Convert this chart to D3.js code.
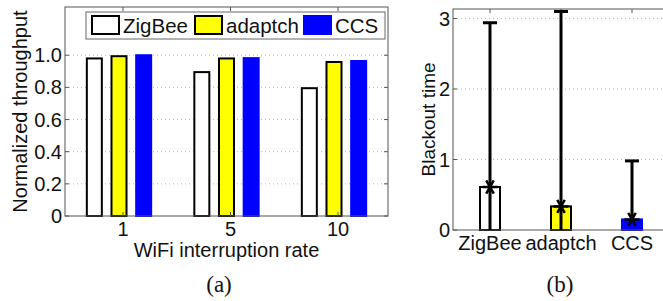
<!DOCTYPE html>
<html>
<head>
<meta charset="utf-8">
<script src="https://d3js.org/d3.v7.min.js"></script>
<style>
  body { margin: 0; background: white; }
  svg text { font-family: "Liberation Sans", Arial, sans-serif; fill: #111; }
  .grid line { stroke: #bbb; stroke-dasharray: 1,3; }
  .caption { font-family: "Liberation Serif", "Times New Roman", serif !important; }
</style>
</head>
<body>
<svg width="663" height="301"></svg>
<script>
// chart (a) data
var rates = ["1", "5", "10"];
var series = ["ZigBee", "adaptch", "CCS"];
var zigbee = [0.98, 0.895, 0.795];
var adaptch = [0.994, 0.98, 0.958];
var ccs = [1.0, 0.982, 0.964];
var yTicksA = [0, 0.2, 0.4, 0.6, 0.8, 1.0];

// chart (b) data
var schemes = ["ZigBee", "adaptch", "CCS"];
var blackMean = [0.61, 0.335, 0.15];
var blackMin = [0, 0, 0.15];
var blackMax = [2.94, 3.10, 0.98];
var yTicksB = [0, 1, 2, 3];

var fills = {ZigBee: "white", adaptch: "#ffff00", CCS: "#0000ff"};
var strokes = {ZigBee: "black", adaptch: "black", CCS: "#0000ff"};

var svg = d3.select("svg");

// ---------- (a) ----------
var a = {left: 65, right: 388, top: 7, bottom: 216};

var x = d3.scalePoint().domain(rates).range([123, 338]),
    inner = d3.scaleBand().domain(series).range([-37, 37]),
    y = d3.scaleLinear().domain([0, 1.3]).range([a.bottom, a.top]);

var ga = svg.append("g");

ga.append("g").attr("class", "grid")
  .selectAll("line")
  .data(yTicksA.filter(function(d) { return d > 0; }))
  .enter().append("line")
    .attr("x1", a.left).attr("x2", a.right)
    .attr("y1", function(d) { return y(d); })
    .attr("y2", function(d) { return y(d); });

var rows = [];
rates.forEach(function(r, i) {
  rows.push({rate: r, s: "ZigBee", v: zigbee[i]});
  rows.push({rate: r, s: "adaptch", v: adaptch[i]});
  rows.push({rate: r, s: "CCS", v: ccs[i]});
});

var barW = 15;
ga.selectAll(".bar")
  .data(rows)
  .enter().append("rect")
    .attr("class", "bar")
    .attr("x", function(d) { return x(d.rate) - 4 + inner(d.s) + inner.bandwidth() / 2 - barW / 2; })
    .attr("y", function(d) { return y(d.v); })
    .attr("width", barW)
    .attr("height", function(d) { return y(0) - y(d.v); })
    .style("fill", function(d) { return fills[d.s]; })
    .style("stroke", function(d) { return strokes[d.s]; })
    .style("stroke-width", 2);

// box + ticks
ga.append("rect")
  .attr("x", a.left).attr("y", a.top)
  .attr("width", a.right - a.left).attr("height", a.bottom - a.top)
  .style("fill", "none").style("stroke", "#555").style("stroke-width", 1);

rates.forEach(function(r) {
  ga.append("line").attr("x1", x(r)).attr("x2", x(r)).attr("y1", a.bottom).attr("y2", a.bottom - 4).style("stroke", "#555");
  ga.append("line").attr("x1", x(r)).attr("x2", x(r)).attr("y1", a.top).attr("y2", a.top + 4).style("stroke", "#555");
});
yTicksA.forEach(function(t) {
  ga.append("line").attr("x1", a.left).attr("x2", a.left + 4).attr("y1", y(t)).attr("y2", y(t)).style("stroke", "#555");
  ga.append("line").attr("x1", a.right).attr("x2", a.right - 4).attr("y1", y(t)).attr("y2", y(t)).style("stroke", "#555");
});

ga.selectAll(".ytick")
  .data(yTicksA)
  .enter().append("text")
    .attr("x", 62)
    .attr("y", function(d) { return y(d); })
    .attr("dy", "0.35em")
    .attr("text-anchor", "end")
    .style("font-size", "20px")
    .text(function(d) { return d === 0 ? "0" : d.toFixed(1); });

ga.selectAll(".xtick")
  .data(rates)
  .enter().append("text")
    .attr("x", function(d) { return x(d); })
    .attr("y", 236)
    .attr("text-anchor", "middle")
    .style("font-size", "20px")
    .text(function(d) { return d; });

ga.append("text")
  .attr("x", (a.left + a.right) / 2).attr("y", 257)
  .attr("text-anchor", "middle")
  .style("font-size", "20px")
  .text("WiFi interruption rate");

ga.append("text")
  .attr("transform", "translate(27," + (a.top + a.bottom) / 2 + ") rotate(-90)")
  .attr("text-anchor", "middle")
  .style("font-size", "20px")
  .text("Normalized throughput");

// legend
var legend = ga.append("g");
legend.append("rect")
  .attr("x", 86).attr("y", 12).attr("width", 299).attr("height", 27)
  .style("fill", "white").style("stroke", "#666");
var slots = [91, 194, 303];
series.forEach(function(s, i) {
  legend.append("rect")
    .attr("x", slots[i] + 1).attr("y", 16).attr("width", 27).attr("height", 18)
    .style("fill", fills[s]).style("stroke", strokes[s]).style("stroke-width", 2);
  legend.append("text")
    .attr("x", slots[i] + 32).attr("y", 33)
    .style("font-size", "20.5px")
    .text(s);
});

// ---------- (b) ----------
var b = {left: 453, right: 672, top: 9, bottom: 230};

var xb = d3.scalePoint().domain(schemes).range([490, 632]),
    yb = d3.scaleLinear().domain([0, 3.135]).range([b.bottom, b.top]);

var gb = svg.append("g");

gb.append("g").attr("class", "grid")
  .selectAll("line")
  .data(yTicksB.filter(function(d) { return d > 0; }))
  .enter().append("line")
    .attr("x1", b.left).attr("x2", b.right)
    .attr("y1", function(d) { return yb(d); })
    .attr("y2", function(d) { return yb(d); });

var bw = 20;
gb.selectAll(".bbar")
  .data(schemes)
  .enter().append("rect")
    .attr("class", "bbar")
    .attr("x", function(d) { return xb(d) - bw / 2; })
    .attr("y", function(d, i) { return yb(blackMean[i]); })
    .attr("width", bw)
    .attr("height", function(d, i) { return yb(0) - yb(blackMean[i]); })
    .style("fill", function(d) { return fills[d]; })
    .style("stroke", function(d) { return strokes[d]; })
    .style("stroke-width", 2);

gb.append("rect")
  .attr("x", b.left).attr("y", b.top)
  .attr("width", b.right - b.left).attr("height", b.bottom - b.top)
  .style("fill", "none").style("stroke", "#555").style("stroke-width", 1);

schemes.forEach(function(s) {
  gb.append("line").attr("x1", xb(s)).attr("x2", xb(s)).attr("y1", b.top).attr("y2", b.top + 4).style("stroke", "#555");
});
yTicksB.forEach(function(t) {
  gb.append("line").attr("x1", b.left).attr("x2", b.left + 4).attr("y1", yb(t)).attr("y2", yb(t)).style("stroke", "#555");
});

// error bars
var err = gb.selectAll(".err")
  .data(schemes)
  .enter().append("g")
    .attr("class", "err")
    .style("stroke", "black")
    .style("stroke-width", 3);

err.append("line")
  .attr("x1", function(d) { return xb(d); })
  .attr("x2", function(d) { return xb(d); })
  .attr("y1", function(d, i) { return yb(blackMin[i]); })
  .attr("y2", function(d, i) { return yb(blackMax[i]); });

err.append("line")
  .attr("x1", function(d) { return xb(d) - 7; })
  .attr("x2", function(d) { return xb(d) + 7; })
  .attr("y1", function(d, i) { return yb(blackMax[i]); })
  .attr("y2", function(d, i) { return yb(blackMax[i]); });

var star = d3.symbol().type(d3.symbolAsterisk).size(160);
err.append("path")
  .attr("d", star)
  .attr("transform", function(d, i) { return "translate(" + xb(d) + "," + yb(blackMean[i]) + ") rotate(90)"; })
  .style("fill", "none")
  .style("stroke-width", 2.5);

gb.selectAll(".ytickb")
  .data(yTicksB)
  .enter().append("text")
    .attr("x", 450)
    .attr("y", function(d) { return yb(d); })
    .attr("dy", "0.35em")
    .attr("text-anchor", "end")
    .style("font-size", "20px")
    .text(function(d) { return d; });

gb.selectAll(".xtickb")
  .data(schemes)
  .enter().append("text")
    .attr("x", function(d) { return xb(d); })
    .attr("y", 250)
    .attr("text-anchor", "middle")
    .style("font-size", "20px")
    .text(function(d) { return d; });

gb.append("text")
  .attr("transform", "translate(435," + (b.top + b.bottom) / 2 + ") rotate(-90)")
  .attr("text-anchor", "middle")
  .style("font-size", "19px")
  .text("Blackout time");

// captions
svg.append("text").attr("class", "caption")
  .attr("x", 219).attr("y", 292).attr("text-anchor", "middle")
  .style("font-size", "23px").text("(a)");
svg.append("text").attr("class", "caption")
  .attr("x", 560).attr("y", 292).attr("text-anchor", "middle")
  .style("font-size", "23px").text("(b)");
</script>
</body>
</html>
